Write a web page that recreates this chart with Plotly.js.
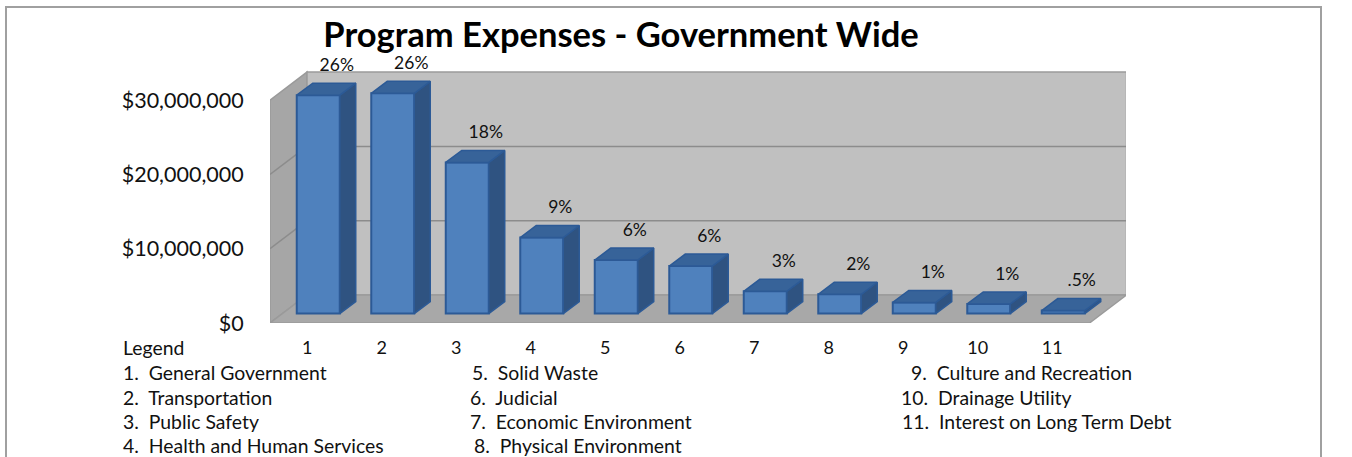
<!DOCTYPE html>
<html>
<head>
<meta charset="utf-8">
<script src="https://cdn.plot.ly/plotly-3.0.1.min.js"></script>
<style>html,body{margin:0;padding:0;background:#fff;overflow:hidden}</style>
</head>
<body>
<div id="chart" style="width:1352px;height:457px"></div>
<script>
// Program expenses by function, in dollars
const categories = [1, 2, 3, 4, 5, 6, 7, 8, 9, 10, 11];
const expenses = [29400000, 29650000, 20350000, 10240000, 7200000, 6400000, 3000000, 2600000, 1500000, 1300000, 400000];
const shareLabels = ['26%', '26%', '18%', '9%', '6%', '6%', '3%', '2%', '1%', '1%', '.5%'];
const axisTicks = [0, 10000000, 20000000, 30000000];
const axisTickText = ['$0', '$10,000,000', '$20,000,000', '$30,000,000'];
const legendNames = ['General Government', 'Transportation', 'Public Safety', 'Health and Human Services',
  'Solid Waste', 'Judicial', 'Economic Environment', 'Physical Environment',
  'Culture and Recreation', 'Drainage Utility', 'Interest on Long Term Debt'];

const W = 1352, H = 457;
const plot = {left: 270, right: 1126, top: 50, bottom: 322.7};
const pxPerCat = 74.5, pxPerDollar = 74.2 / 1e7;
const FONT = 'Lato, sans-serif';

// Oblique projection of the box: offsets in axis units
const wallDX = 37 / pxPerCat, wallDY = 28 / pxPerDollar;
const barDX = 16 / pxPerCat, barDY = 12 / pxPerDollar;
const barShiftX = 11 / pxPerCat, barShiftY = 9.4 / pxPerDollar;
const barW = 43 / pxPerCat;
const x0 = 0.5, xN = 11.5, wallTop = 30000000;

const path = pts => 'M' + pts.map(p => p[0] + ',' + p[1]).join('L') + 'Z';
const face = (pts, color) => ({
  type: 'path', layer: 'below', xref: 'x', yref: 'y', path: path(pts),
  fillcolor: color, line: {color: '#9a9a9a', width: 1.5}
});
const rule = (xa, ya, xb, yb) => ({
  type: 'line', layer: 'below', xref: 'x', yref: 'y', x0: xa, y0: ya, x1: xb, y1: yb,
  line: {color: '#8c8c8c', width: 1.5}
});

const shapes = [
  face([[x0, 0], [x0 + wallDX, wallDY], [x0 + wallDX, wallDY + wallTop], [x0, wallTop]], '#a6a6a6'),
  face([[x0 + wallDX, wallDY], [xN + wallDX, wallDY], [xN + wallDX, wallDY + wallTop], [x0 + wallDX, wallDY + wallTop]], '#c0c0c0'),
  face([[x0, 0], [xN, 0], [xN + wallDX, wallDY], [x0 + wallDX, wallDY]], '#a8a8a8')
];
axisTicks.slice(1, 3).forEach(v => {
  shapes.push(rule(x0, v, x0 + wallDX, v + wallDY));
  shapes.push(rule(x0 + wallDX, v + wallDY, xN + wallDX, v + wallDY));
});
// Frame around the whole panel, open past the lower edge of the page
const px = v => (v - plot.left) / (plot.right - plot.left);
const py = v => (plot.bottom - v) / (plot.bottom - plot.top);
shapes.push({type: 'rect', layer: 'above', xref: 'paper', yref: 'paper',
  x0: px(6), x1: px(1321), y0: py(470), y1: py(7),
  line: {color: '#a0a0a0', width: 2}, fillcolor: 'rgba(0,0,0,0)'});

// Front faces
const barX = categories.map(c => c + barShiftX);
const traces = [{
  type: 'bar', x: barX, y: expenses, base: categories.map(() => barShiftY), width: barW,
  marker: {color: '#4f81bd', line: {color: '#2c5a96', width: 2}},
  hoverinfo: 'skip', showlegend: false
}];

// Side and top faces of each bar
const polyFace = (pts, color) => ({
  type: 'scatter', mode: 'lines', x: pts.map(p => p[0]), y: pts.map(p => p[1]),
  fill: 'toself', fillcolor: color, line: {color: '#2c5a96', width: 1.5},
  hoverinfo: 'skip', showlegend: false
});
categories.forEach((c, i) => {
  const l = barX[i] - barW / 2, r = barX[i] + barW / 2;
  const b = barShiftY, t = barShiftY + expenses[i];
  traces.push(polyFace([[r, b], [r + barDX, b + barDY], [r + barDX, t + barDY], [r, t], [r, b]], '#2f5381'));
  traces.push(polyFace([[l, t], [l + barDX, t + barDY], [r + barDX, t + barDY], [r, t], [l, t]], '#376399'));
});

// Share labels sit just above the back edge of each bar
traces.push({
  type: 'scatter', mode: 'text',
  x: barX.map(v => v + 18.5 / pxPerCat),
  y: expenses.map(v => v + barShiftY + barDY + 16.5 / pxPerDollar),
  text: shareLabels, textposition: 'middle center',
  textfont: {family: FONT, size: 17.5, color: '#111'},
  cliponaxis: false, hoverinfo: 'skip', showlegend: false
});

// Numbered key below the axis
const textAt = (text, xPx, yPx) => ({
  text, x: px(xPx), y: py(yPx), xref: 'paper', yref: 'paper',
  xanchor: 'left', yanchor: 'middle', showarrow: false,
  font: {family: FONT, size: 19.4, color: '#111'}
});
const keyX = [121, 121, 121, 121, 470, 468, 468, 472, 909, 899, 900];
const keyY = [372.5, 397, 421.5, 445.5, 372.5, 397, 421.5, 445.5, 372.5, 397, 421.5];
const annotations = [textAt('Legend', 121, 347)];
legendNames.forEach((name, i) => {
  annotations.push(textAt((i + 1) + '.\u00A0\u00A0' + name, keyX[i], keyY[i]));
});

const layout = {
  width: W, height: H,
  margin: {l: plot.left, r: W - plot.right, t: plot.top, b: H - plot.bottom, pad: 0},
  paper_bgcolor: '#fff', plot_bgcolor: 'rgba(0,0,0,0)',
  title: {text: '<b>Program Expenses - Government Wide</b>', x: 621 / W, xanchor: 'center',
    y: 1 - 35 / H, yanchor: 'middle', font: {family: FONT, size: 34.5, color: '#000'}},
  showlegend: false, barmode: 'overlay',
  xaxis: {
    range: [x0, x0 + (plot.right - plot.left) / pxPerCat], tickmode: 'array',
    tickvals: categories, ticktext: categories.map(String),
    showgrid: false, zeroline: false, showline: false,
    ticks: 'outside', ticklen: 8, tickcolor: 'rgba(0,0,0,0)',
    tickfont: {family: FONT, size: 18, color: '#111'}
  },
  yaxis: {
    range: [0, (plot.bottom - plot.top) / pxPerDollar], tickmode: 'array',
    tickvals: axisTicks, ticktext: axisTickText,
    showgrid: false, zeroline: false, showline: false,
    ticks: 'outside', ticklen: 21, tickcolor: 'rgba(0,0,0,0)',
    tickfont: {family: FONT, size: 21.5, color: '#111'}
  },
  shapes, annotations
};

Plotly.newPlot('chart', traces, layout, {displayModeBar: false, staticPlot: true});
</script>
</body>
</html>
